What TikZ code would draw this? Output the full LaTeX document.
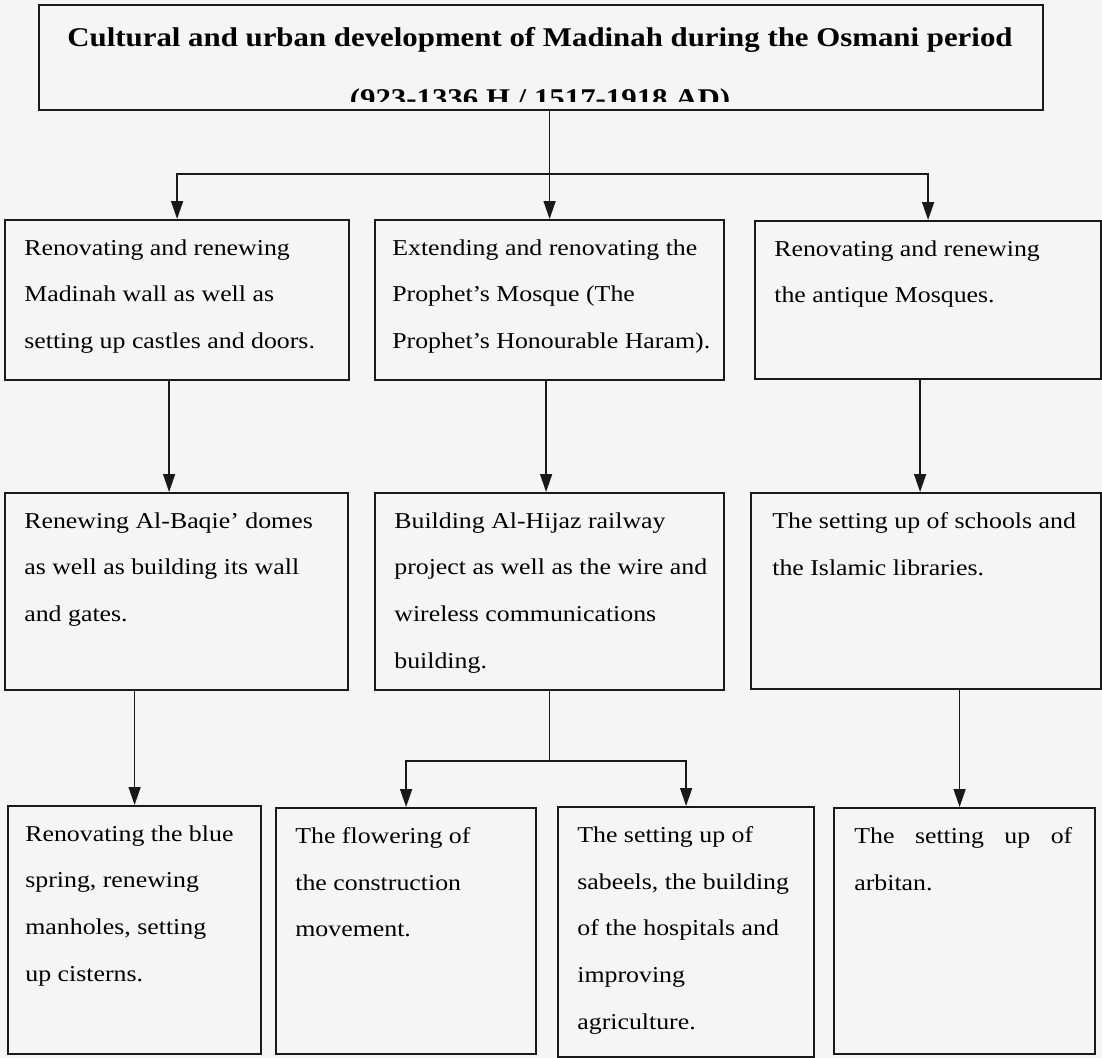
\documentclass[tikz,border=0pt]{standalone}
\usepackage{fontspec}
\setmainfont[FakeStretch=1.14]{Liberation Serif}
\usetikzlibrary{arrows.meta}

\begin{document}
\begin{tikzpicture}[
  x=0.02cm, y=-0.02cm,
  font=\fontsize{12.9pt}{26.6pt}\selectfont,
  cell/.style={draw=black!90, line width=0.045cm, anchor=north west, inner sep=0pt},
  txt/.style={anchor=north west, align=left, inner sep=0pt},
  head/.style={anchor=base, inner sep=0pt, font=\fontsize{15.4pt}{20pt}\selectfont\bfseries},
  arr/.style={-{Triangle[length=0.36cm, width=0.24cm]}, line width=0.03cm, draw=black!90}
]
\useasboundingbox (0,0) rectangle (1102,1058);
\fill[black!4] (0,0) rectangle (1102,1058);

% title
\node[cell, minimum width=20.08cm, minimum height=2.1cm] (title) at (38,4) {};
\node[head] (heading) at (540,46) {Cultural and urban development of Madinah during the Osmani period};
\begin{scope}
  \clip (38,4) rectangle (1042,101);
  \node[head] (period) at (540,107) {(923-1336 H / 1517-1918 AD)};
\end{scope}

% first row
\node[cell, minimum width=6.88cm, minimum height=3.2cm] (wall) at (4,219) {};
\node[txt] (wall-t) at ([shift={(20,20)}]wall.north west) {Renovating and renewing\\Madinah wall as well as\\setting up castles and doors.};
\node[cell, minimum width=6.98cm, minimum height=3.2cm] (mosque) at (374,219) {};
\node[txt] (mosque-t) at ([shift={(18,20)}]mosque.north west) {Extending and renovating the\\Prophet’s Mosque (The\\Prophet’s Honourable Haram).};
\node[cell, minimum width=6.92cm, minimum height=3.16cm] (antique) at (754,220) {};
\node[txt] (antique-t) at ([shift={(20,20)}]antique.north west) {Renovating and renewing\\the antique Mosques.};

% second row
\node[cell, minimum width=6.86cm, minimum height=3.94cm] (baqie) at (4,492) {};
\node[txt] (baqie-t) at ([shift={(20,20)}]baqie.north west) {Renewing Al-Baqie’ domes\\as well as building its wall\\and gates.};
\node[cell, minimum width=6.98cm, minimum height=3.94cm] (railway) at (374,492) {};
\node[txt] (railway-t) at ([shift={(20,20)}]railway.north west) {Building Al-Hijaz railway\\project as well as the wire and\\wireless communications\\building.};
\node[cell, minimum width=7cm, minimum height=3.92cm] (schools) at (750,492) {};
\node[txt] (schools-t) at ([shift={(22,20)}]schools.north west) {The setting up of schools and\\the Islamic libraries.};

% third row
\node[cell, minimum width=5.06cm, minimum height=4.96cm] (spring) at (7,805) {};
\node[txt] (spring-t) at ([shift={(18,20)}]spring.north west) {Renovating the blue\\spring, renewing\\manholes, setting\\up cisterns.};
\node[cell, minimum width=5.2cm, minimum height=4.92cm] (flowering) at (275,807) {};
\node[txt] (flowering-t) at ([shift={(20,20)}]flowering.north west) {The flowering of\\the construction\\movement.};
\node[cell, minimum width=5.12cm, minimum height=5cm] (sabeels) at (557,806) {};
\node[txt] (sabeels-t) at ([shift={(20,20)}]sabeels.north west) {The setting up of\\sabeels, the building\\of the hospitals and\\improving\\agriculture.};
\node[cell, minimum width=5.22cm, minimum height=4.92cm] (arbitan) at (833,807) {};
\node[txt] (arbitan-t) at ([shift={(21,20)}]arbitan.north west) {\makebox[4.36cm][s]{The setting up of}\\arbitan.};

% connectors
\draw[arr] (title.south -| mosque.north) -- (mosque.north);
\path (title.south -| mosque.north) ++(0,63) coordinate (split1);
\draw[arr] (split1) -| (wall.north);
\draw[arr] (split1) -| (antique.north);

\draw[arr] ([xshift=-0.16cm]wall.south) -- ([xshift=-0.16cm]wall.south |- baqie.north);
\draw[arr] ([xshift=-0.07cm]mosque.south) -- ([xshift=-0.07cm]mosque.south |- railway.north);
\draw[arr] ([xshift=-0.16cm]antique.south) -- ([xshift=-0.16cm]antique.south |- schools.north);

\draw[arr] (baqie.south -| spring.north) -- (spring.north);
\draw[arr, -] (railway.south) -- ++(0,70) coordinate (split2);
\draw[arr] (split2) -| (flowering.north);
\draw[arr] (split2) -| (sabeels.north);
\draw[arr] ([xshift=-0.1cm]arbitan.north |- schools.south) -- ([xshift=-0.1cm]arbitan.north);
\end{tikzpicture}
\end{document}
